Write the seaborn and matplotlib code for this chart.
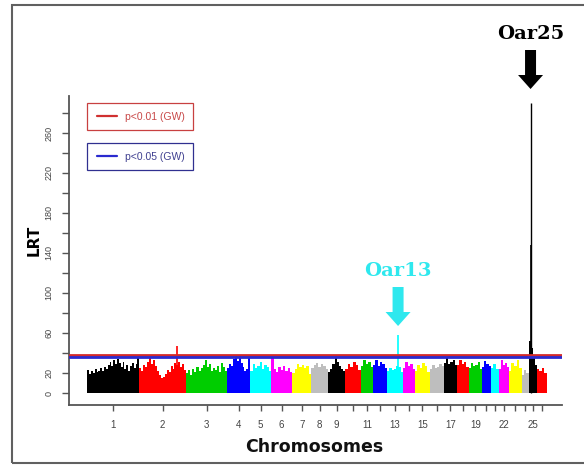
import numpy as np
import matplotlib
matplotlib.use("Agg")
import matplotlib.pyplot as plt
import seaborn as sns
from matplotlib.patches import Rectangle, FancyArrow
from matplotlib.lines import Line2D

# chromosome sizes (approx. Mb) and the ones R kept a label for
chrom_ids = list(range(1, 27))
chrom_size = [296, 268, 234, 131, 120, 120, 108, 97, 97, 91, 68, 80, 91,
              68, 86, 80, 74, 68, 74, 51, 46, 57, 74, 40, 46, 57]
shown_labels = [1, 2, 3, 4, 5, 6, 7, 8, 9, 11, 13, 15, 17, 19, 22, 25]

# LRT profile per chromosome (equal windows along each chromosome)
lrt_chr1 = [23, 19, 22, 20, 24, 21, 22, 25, 22, 26, 24, 28, 31, 27, 33, 29,
            34, 30, 26, 31, 24, 28, 22, 27, 30, 25, 29, 35]
lrt_chr2 = [25, 22, 28, 26, 31, 36, 29, 33, 27, 22, 18, 15, 16, 19, 23, 21,
            27, 24, 30, 28, 31, 26, 29, 23]
lrt_chr3 = [20, 23, 18, 24, 21, 26, 22, 25, 28, 33, 26, 29, 22, 25, 23, 27,
            21, 30, 26, 22]
lrt_chr4 = [25, 29, 27, 34, 37, 32, 38, 30, 26, 22, 24, 36]
lrt_chr5 = [22, 29, 25, 27, 31, 24, 28, 26, 22]
lrt_chr6 = [35, 24, 21, 26, 23, 27, 22, 25, 21]
lrt_chr7 = [20, 24, 29, 26, 28, 25, 27, 19]
lrt_chr8 = [25, 28, 30, 26, 29, 27, 24]
lrt_chr9 = [21, 24, 29, 37, 31, 27, 24, 22]
lrt_chr10 = [24, 29, 26, 31, 28, 23]
lrt_chr11 = [27, 33, 29, 31, 26]
lrt_chr12 = [28, 33, 27, 31, 29, 25]
lrt_chr13 = [22, 25, 23, 24, 27, 26, 21]
lrt_chr14 = [25, 31, 27, 29, 24]
lrt_chr15 = [22, 28, 25, 30, 27, 21]
lrt_chr16 = [24, 28, 25, 26, 29, 27]
lrt_chr17 = [30, 35, 29, 31, 33, 28]
lrt_chr18 = [28, 33, 29, 31, 26]
lrt_chr19 = [25, 30, 27, 28, 31, 24]
lrt_chr20 = [26, 32, 29, 27]
lrt_chr21 = [25, 29, 24]
lrt_chr22 = [24, 33, 28, 30, 26]
lrt_chr23 = [22, 30, 27, 33, 25]
lrt_chr24 = [18, 23, 20]
lrt_chr25 = [52, 45, 38, 28]
lrt_chr26 = [24, 22, 25, 20]
window_lrt = [lrt_chr1, lrt_chr2, lrt_chr3, lrt_chr4, lrt_chr5, lrt_chr6,
              lrt_chr7, lrt_chr8, lrt_chr9, lrt_chr10, lrt_chr11, lrt_chr12,
              lrt_chr13, lrt_chr14, lrt_chr15, lrt_chr16, lrt_chr17, lrt_chr18,
              lrt_chr19, lrt_chr20, lrt_chr21, lrt_chr22, lrt_chr23, lrt_chr24,
              lrt_chr25, lrt_chr26]

# single-SNP peaks
spike_chrom = [2, 13, 25, 25]
spike_pos_mb = [215, 63, 10, 13]
spike_lrt = [47, 58, 290, 148]

# genome-wide thresholds
thr_01 = 38.5
thr_05 = 35.8

y_ticks = list(range(0, 281, 20))
y_shown = [0, 20, 60, 100, 140, 180, 220, 260]

# R default palette 1:8
r_palette = sns.color_palette(["#000000", "#FF0000", "#00CD00", "#0000FF",
                               "#00FFFF", "#FF00FF", "#FFFF00", "#BEBEBE"])

sns.set_theme(style="white")
plt.rcParams['font.family'] = ['DejaVu Sans']

W, H = 584, 465
fig = plt.figure(figsize=(W / 100, H / 100), dpi=100)
fig.patch.set_facecolor("white")


def fx(x):
    return x / W


def fy(y):
    return 1 - y / H


ax = fig.add_axes([fx(69), fy(405), fx(562) - fx(69), fy(96) - fy(405)])

size = np.array(chrom_size, dtype=float)
starts = np.concatenate([[0], np.cumsum(size)[:-1]])
centers = starts + size / 2
total = size.sum()

for i, vals in enumerate(window_lrt):
    col = r_palette[i % 8]
    edges = np.linspace(starts[i], starts[i] + size[i], len(vals) + 1)
    ax.fill_between(edges, np.r_[vals, vals[-1]], 0, step="post",
                    color=col, linewidth=0)

for c, p, v in zip(spike_chrom, spike_pos_mb, spike_lrt):
    ax.vlines(starts[c - 1] + p, 0, v, color=r_palette[(c - 1) % 8],
              linewidth=1.2 if v < 200 else 1.0)

ax.axhline(thr_01, color="#D42A2A", linewidth=2, zorder=5)
ax.axhline(thr_05, color="#2A2ACF", linewidth=2, zorder=5)

ax.set_xlim(-0.04 * total, 1.033 * total)
ax.set_ylim(-12, 297)

ax.set_xticks(centers)
ax.set_xticklabels([str(c) if c in shown_labels else "" for c in chrom_ids],
                   family="Liberation Sans", fontsize=7, color="#444444")
ax.set_yticks(y_ticks)
ax.set_yticklabels([str(t) if t in y_shown else "" for t in y_ticks],
                   family="Liberation Sans", fontsize=6.5, color="#444444",
                   rotation=90, va="center")
ax.tick_params(axis="x", length=4, width=1, color="#555555", pad=7, bottom=True)
ax.tick_params(axis="y", length=5, width=1, color="#555555", pad=6, left=True)

sns.despine(ax=ax)
for side in ["left", "bottom"]:
    ax.spines[side].set_color("#555555")
    ax.spines[side].set_linewidth(1.3)

ax.set_ylabel("LRT", fontsize=11, fontweight="bold", color="black")
ax.yaxis.set_label_coords((42 - 69) / 493, (405 - 240) / 309)
ax.set_xlabel("Chromosomes", fontsize=12.5, fontweight="bold", color="#111111")
ax.xaxis.set_label_coords((314 - 69) / 493, (405 - 438) / 309)

# annotation arrows for the two QTL peaks
mb_per_px = (1.073 * total) / 493
x13 = starts[12] + spike_pos_mb[1]
x25 = starts[24] + spike_pos_mb[2]
for xc, top, col, name in [(x13, 106, "#2EE8EE", "Oar13"), (x25, 343, "black", "Oar25")]:
    arr = FancyArrow(xc, top, 0, -39, width=11 * mb_per_px,
                     head_width=25 * mb_per_px, head_length=14,
                     length_includes_head=True, color=col, linewidth=0,
                     clip_on=False)
    ax.add_patch(arr)
    ax.text(xc, top + 16, name, ha="center", va="center", fontsize=14,
            fontweight="bold", family="DejaVu Serif", color=col, clip_on=False)

# the two legend boxes
for y0, y1, ec, lc, tc, label in [(103, 130, "#C84040", "#D03030", "#C84848", "p<0.01 (GW)"),
                                  (143, 170, "#303090", "#2A2ACF", "#404090", "p<0.05 (GW)")]:
    fig.add_artist(Rectangle((fx(87), fy(y1)), fx(193) - fx(87), fy(y0) - fy(y1),
                             transform=fig.transFigure, facecolor="white",
                             edgecolor=ec, linewidth=0.9))
    ym = (y0 + y1) / 2
    fig.add_artist(Line2D([fx(97), fx(117)], [fy(ym), fy(ym)],
                          transform=fig.transFigure, color=lc, linewidth=1.6))
    fig.text(fx(125), fy(ym), label, ha="left", va="center", fontsize=7.5,
             family="Liberation Sans", color=tc)

# outer frame of the figure panel
fig.add_artist(Rectangle((fx(12), fy(463)), 1.2, fy(5) - fy(463),
                         transform=fig.transFigure, fill=False,
                         edgecolor="#606060", linewidth=1.5))

fig.savefig("out.png", dpi=100, facecolor="white")
